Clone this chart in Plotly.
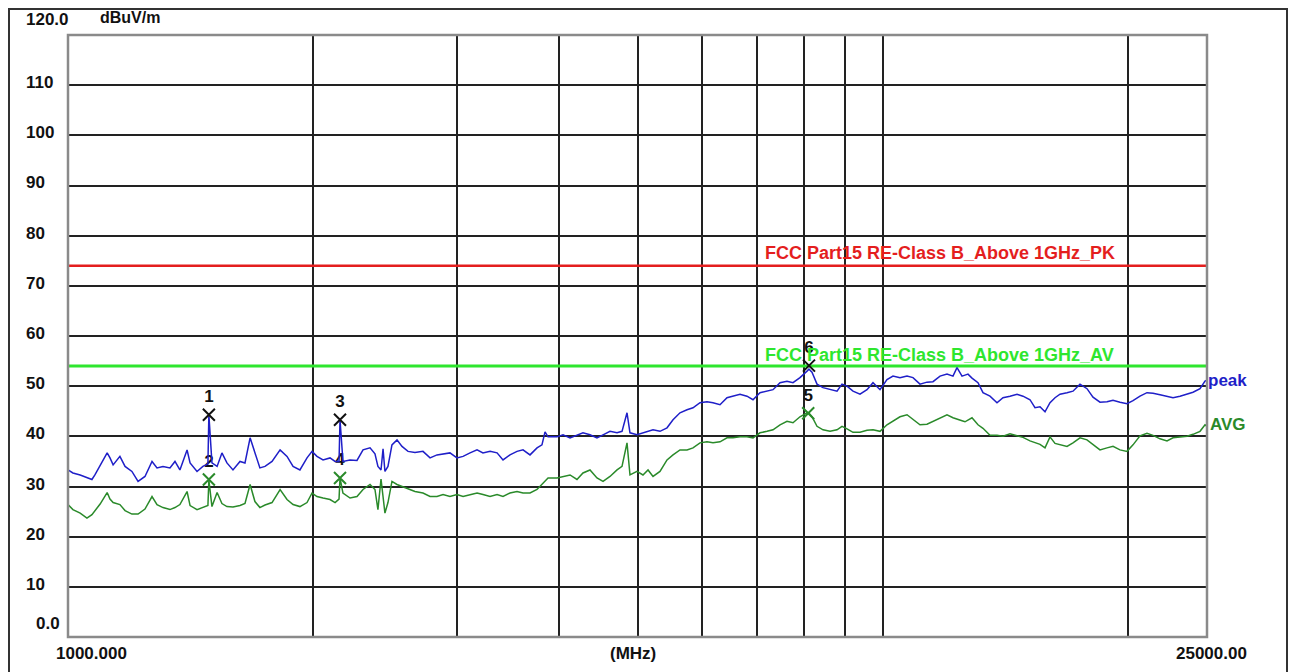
import plotly.graph_objects as go

# ---------------- data ----------------
freq_mhz = [
    1000, 1014, 1035, 1055, 1070, 1079, 1095, 1117, 1126, 1136,
    1158, 1175, 1198, 1219, 1243, 1268, 1286, 1308, 1334, 1353,
    1372, 1400, 1412, 1440, 1464, 1485, 1489, 1502, 1524, 1545,
    1567, 1594, 1626, 1649, 1673, 1696, 1720, 1745, 1780, 1821,
    1857, 1889, 1926, 1965, 1993, 2021, 2056, 2097, 2127, 2151,
    2157, 2175, 2219, 2263,
    2302, 2348, 2381, 2401, 2422, 2436, 2449, 2470, 2498, 2534,
    2570, 2614, 2666, 2727, 2782, 2837, 2886, 2943, 3002, 3054,
    3115, 3177, 3231, 3296, 3362, 3419, 3487, 3557, 3618, 3690,
    3764, 3817, 3850, 3883, 3983, 4051, 4132, 4214, 4286, 4372,
    4459, 4536, 4626, 4719, 4786, 4854, 4895, 4993, 5078, 5151,
    5224, 5328, 5435, 5528, 5638, 5751, 5849, 5966, 6085, 6189,
    6313, 6439, 6549, 6680, 6813, 6930, 7068, 7210, 7333, 7480,
    7629, 7759, 7914, 8073, 8118, 8187, 8304, 8446, 8615, 8787,
    8912, 9039, 9193, 9377, 9564, 9728, 9922, 10120, 10293, 10499,
    10709, 10892, 11109, 11331, 11525,
    11756, 11990, 12195, 12334, 12439, 12510, 12616, 12723, 12868, 13088,
    13274, 13539, 13810, 14046, 14327, 14613, 14863, 15160, 15375, 15595,
    15817, 16042, 16270, 16502, 16831, 17119, 17461, 17810, 18114, 18476,
    18846, 19168, 19551, 19942, 20283, 20688, 21101, 21462, 21891, 22328,
    22710, 23164, 23626, 24031, 24511, 24860, 25000,
]

peak_dbuv = [
    33.3, 32.7, 32.3, 31.7, 31.4, 32.3, 34.3, 36.7, 35.7, 34.3,
    36.0, 34.0, 33.0, 31.0, 32.0, 35.0, 33.7, 34.0, 33.7, 35.0,
    33.3, 37.3, 34.7, 33.0, 34.0, 34.5, 44.3, 34.7, 34.0, 36.7,
    34.7, 33.3, 35.0, 34.7, 39.7, 36.5, 33.7, 34.0, 35.0, 37.3,
    36.0, 34.0, 33.3, 35.7, 37.0, 36.0, 35.3, 35.7, 35.0, 35.0,
    43.3, 35.0, 35.3, 35.2,
    37.3, 37.7, 36.5, 34.0, 33.3, 37.5, 33.0, 34.0, 38.3, 39.3,
    38.0, 37.0, 36.8, 37.0, 35.7, 36.3, 36.5, 36.7, 35.7, 36.0,
    36.7, 37.3, 36.7, 37.0, 36.7, 35.3, 36.3, 37.0, 37.3, 36.3,
    37.7, 38.3, 40.9, 39.9, 39.9, 40.3, 39.7, 40.3, 40.7, 40.3,
    39.7, 40.3, 41.0, 40.7, 41.0, 44.7, 40.7, 40.3, 40.7, 41.0,
    41.3, 41.0, 41.7, 43.3, 44.7, 45.3, 45.7, 46.7, 46.9, 46.7,
    46.3, 47.7, 48.0, 48.4, 48.0, 47.3, 48.7, 49.0, 49.3, 50.7,
    51.0, 50.7, 51.7, 53.0, 53.4, 52.8, 50.4, 49.7, 49.3, 49.0,
    50.4, 50.0, 49.0, 48.4, 49.3, 50.7, 49.3, 51.3, 52.0, 51.7,
    52.0, 51.7, 50.4, 50.8, 50.9,
    52.0, 52.4, 52.0, 53.7, 52.6, 52.0, 52.2, 52.4, 51.6, 50.7,
    48.7, 48.0, 46.7, 47.7, 48.0, 48.4, 48.0, 47.3, 45.7, 45.9,
    44.9, 46.7, 47.7, 48.4, 48.7, 49.0, 50.4, 49.5, 47.8, 46.8,
    46.9, 47.2, 46.8, 46.5, 47.1, 48.0, 48.7, 48.6, 48.3, 48.0,
    47.7, 48.0, 48.4, 48.8, 49.5, 51.0, 51.2,
]

avg_dbuv = [
    26.4, 25.4, 24.7, 23.7, 24.4, 25.2, 26.5, 28.8, 27.5, 26.8,
    26.4, 25.2, 24.5, 24.5, 25.5, 28.0, 26.4, 25.8, 25.4, 25.8,
    26.4, 29.0, 26.2, 25.4, 25.8, 26.2, 31.3, 26.0, 28.8, 26.6,
    26.0, 25.9, 26.2, 26.6, 30.4, 27.0, 25.8, 26.3, 26.8, 29.4,
    27.4, 26.4, 26.0, 26.8, 28.7, 28.0, 27.7, 27.4, 26.8, 27.5,
    31.7, 28.7, 27.7, 28.0,
    29.4, 30.4, 29.4, 25.4, 31.5, 28.0, 24.7, 26.8, 31.0, 30.4,
    30.0, 29.4, 29.0, 28.7, 28.0, 28.0, 28.4, 28.0, 28.4, 28.0,
    28.4, 28.7, 28.4, 28.0, 28.4, 28.0, 28.7, 29.0, 28.7, 28.7,
    29.4, 30.4, 31.0, 31.7, 31.7, 32.0, 32.3, 31.4, 32.7, 33.3,
    31.7, 31.0, 32.0, 33.3, 34.0, 38.7, 32.3, 33.0, 32.3, 33.3,
    32.0, 33.0, 35.3, 36.3, 37.3, 37.3, 37.7, 38.7, 38.9, 38.7,
    38.9, 39.7, 39.7, 39.9, 39.9, 39.7, 40.7, 41.0, 41.3, 42.3,
    43.0, 42.7, 43.9, 44.7, 44.6, 43.9, 42.0, 41.3, 41.0, 41.3,
    42.0, 41.5, 40.8, 40.8, 41.2, 41.3, 41.0, 42.3, 43.0, 43.9,
    44.3, 43.3, 42.3, 42.4, 43.0,
    43.7, 44.3, 43.7, 43.5, 43.3, 43.1, 42.9, 43.2, 43.7, 42.3,
    41.6, 40.2, 40.2, 40.0, 40.5, 40.1, 39.8, 39.1, 38.8, 38.4,
    37.7, 39.9, 38.6, 38.3, 38.0, 38.7, 39.7, 39.3, 38.3, 37.3,
    37.7, 38.0, 37.3, 37.0, 38.3, 40.1, 40.6, 40.2, 39.5, 39.1,
    39.7, 39.9, 40.0, 40.4, 41.0, 42.3, 42.0,
]

assert len(freq_mhz) == len(peak_dbuv) == len(avg_dbuv)

limit_freq = [1000, 25000]
limit_pk = [74, 74]
limit_av = [54, 54]
limit_pk_label = "FCC Part15 RE-Class B_Above 1GHz_PK"
limit_av_label = "FCC Part15 RE-Class B_Above 1GHz_AV"

peak_mark_freq = [1489, 2157, 8118]
peak_mark_level = [44.3, 43.3, 54.1]
peak_mark_label = ["1", "3", "6"]

avg_mark_freq = [1489, 2157, 8100]
avg_mark_level = [31.4, 31.7, 44.6]
avg_mark_label = ["2", "4", "5"]

x_grid_mhz = [2000, 3000, 4000, 5000, 6000, 7000, 8000, 9000, 10000, 20000]
y_grid = [10, 20, 30, 40, 50, 60, 70, 80, 90, 100, 110]
y_tick_text = ["10", "20", "30", "40", "50", "60", "70", "80", "90", "100", "110"]
x_start_label = "1000.000"
x_stop_label = "25000.00"
x_unit_label = "(MHz)"
y_unit_label = "dBuV/m"

# ---------------- style ----------------
FONT = "Liberation Sans, Arial, sans-serif"
BLUE = "#1f1fc8"
DKGREEN = "#2a8a2a"
LIMGREEN = "#2ee62e"
RED = "#e41e1e"

# The page body has an 8 px margin; the figure is sized so that the plot
# area lands on page pixels x 68..1207, y 35..637.
OFF = 8
W, H = 1296 - OFF, 672 - OFF
PL, PR, PT, PB = 68, 1207, 35, 637          # plot area in page pixels
L, T = PL - OFF, PT - OFF
R = W - (PR - PL) - L
B = H - (PB - PT) - T
pw, ph = PR - PL, PB - PT


def px_x(px):
    return (px - PL) / pw


def px_y(py):
    return (PB - py) / ph


fig = go.Figure()

fig.add_trace(go.Scatter(x=limit_freq, y=limit_pk, mode="lines",
                         line=dict(color=RED, width=2.5), hoverinfo="skip"))
fig.add_trace(go.Scatter(x=limit_freq, y=limit_av, mode="lines",
                         line=dict(color=LIMGREEN, width=3), hoverinfo="skip"))

fig.add_trace(go.Scatter(x=freq_mhz, y=avg_dbuv, mode="lines",
                         line=dict(color=DKGREEN, width=1.5)))
fig.add_trace(go.Scatter(x=avg_mark_freq, y=avg_mark_level, mode="markers+text",
                         text=["<b>%s</b>" % t for t in avg_mark_label],
                         textposition="top center",
                         textfont=dict(family=FONT, size=17, color="#111"),
                         marker=dict(symbol="x-thin", size=12,
                                     line=dict(color=DKGREEN, width=2))))
fig.add_trace(go.Scatter(x=freq_mhz, y=peak_dbuv, mode="lines",
                         line=dict(color=BLUE, width=1.5)))
fig.add_trace(go.Scatter(x=peak_mark_freq, y=peak_mark_level, mode="markers+text",
                         text=["<b>%s</b>" % t for t in peak_mark_label],
                         textposition="top center",
                         textfont=dict(family=FONT, size=17, color="#111"),
                         marker=dict(symbol="x-thin", size=12,
                                     line=dict(color="#111", width=2))))


def label(px, py, text, size=17, color="#111", anchor="left"):
    return dict(x=px_x(px), y=px_y(py), xref="paper", yref="paper",
                text="<b>%s</b>" % text, showarrow=False,
                xanchor=anchor, yanchor="middle",
                font=dict(family=FONT, size=size, color=color))


ann = []
for v, t in zip(y_grid, y_tick_text):
    py = PB - v * ph / 120.0 - 2.5
    ann.append(label(24, py, t))
ann.append(label(34, 623, "0.0"))
ann.append(label(24, 20, "120.0"))
ann.append(label(98, 18, y_unit_label, size=16))
ann.append(label(91, 653, x_start_label, anchor="center"))
ann.append(label(633, 653, x_unit_label, size=17, anchor="center"))
ann.append(label(1211, 653, x_stop_label, anchor="center"))
ann.append(label(763, 253, limit_pk_label, size=18, color=RED))
ann.append(label(763, 355, limit_av_label, size=18, color=LIMGREEN))
ann.append(label(1206, 380, "peak", size=17, color=BLUE))
ann.append(label(1208, 424, "AVG", size=17, color=DKGREEN))

shapes = [
    dict(type="rect", xref="paper", yref="paper", x0=0, x1=1, y0=0, y1=1,
         line=dict(color="#8a8a8a", width=2.5), layer="above"),
    dict(type="path", xref="paper", yref="paper",
         path="M %f %f L %f %f L %f %f L %f %f" % (
             px_x(9), px_y(700), px_x(9), px_y(9),
             px_x(1287), px_y(9), px_x(1287), px_y(700)),
         line=dict(color="#333", width=2)),
]

fig.update_layout(
    width=W, height=H,
    margin=dict(l=L, r=R, t=T, b=B, pad=0),
    paper_bgcolor="white", plot_bgcolor="white",
    showlegend=False,
    annotations=ann, shapes=shapes,
    xaxis=dict(type="log", range=[3, 4.39794], tickvals=x_grid_mhz,
               showticklabels=False, ticks="", showgrid=True,
               gridcolor="#222", gridwidth=1.6, zeroline=False, showline=False),
    yaxis=dict(range=[0, 120], tickvals=y_grid, showticklabels=False, ticks="",
               showgrid=True, gridcolor="#222", gridwidth=1.6, zeroline=False,
               showline=False),
)

fig.write_html("out.html")
